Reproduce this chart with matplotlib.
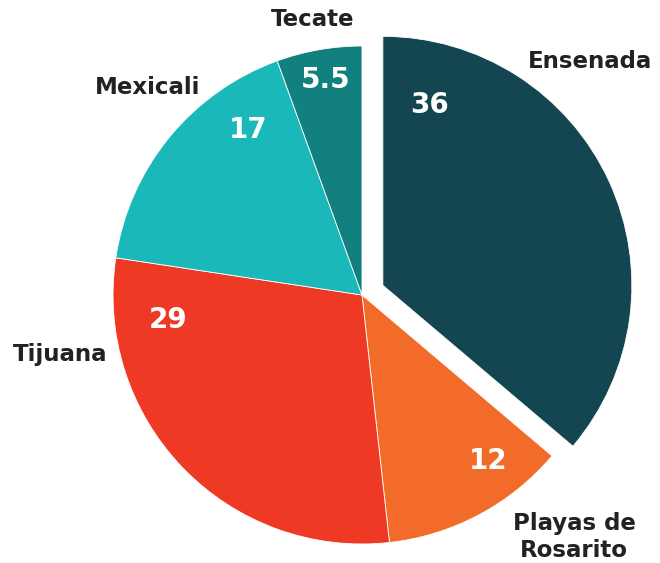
import matplotlib.pyplot as plt

# data
cities = ["Ensenada", "Playas de\nRosarito", "Tijuana", "Mexicali", "Tecate"]
values = [36, 12, 29, 17, 5.5]
value_labels = ["36", "12", "29", "17", "5.5"]
colors = ["#134650", "#F26B28", "#EE3A24", "#1BB8BA", "#138080"]

# layout, in pixel coords (y from top)
W, H = 660, 563
cx, cy, R = 362, 295, 249
explode = [23, 0, 0, 0, 0]  # pixels
name_pos = [(590, 62), (574, 537), (60, 355), (148, 87), (313, 20)]
num_pos = [(430, 105), (488, 461), (168, 320), (248, 130), (326, 80)]

fig = plt.figure(figsize=(W / 100, H / 100), dpi=100)
ax = fig.add_axes([0, 0, 1, 1])

ax.pie(values, colors=colors, explode=explode, startangle=90, counterclock=False,
       center=(cx, H - cy), radius=R, frame=True,
       wedgeprops=dict(edgecolor="white", linewidth=0.6))
ax.set_xlim(0, W)
ax.set_ylim(0, H)
ax.set_aspect("equal")
ax.axis("off")

for name, (x, y) in zip(cities, name_pos):
    ax.text(x, H - y, name, ha="center", va="center", fontsize=16.5,
            fontweight="bold", family="DejaVu Sans", color="#222222",
            linespacing=1.2)

for lab, (x, y) in zip(value_labels, num_pos):
    ax.text(x, H - y, lab, ha="center", va="center", fontsize=20,
            fontweight="bold", family="DejaVu Sans", color="white")

fig.savefig("out.png", dpi=100)
